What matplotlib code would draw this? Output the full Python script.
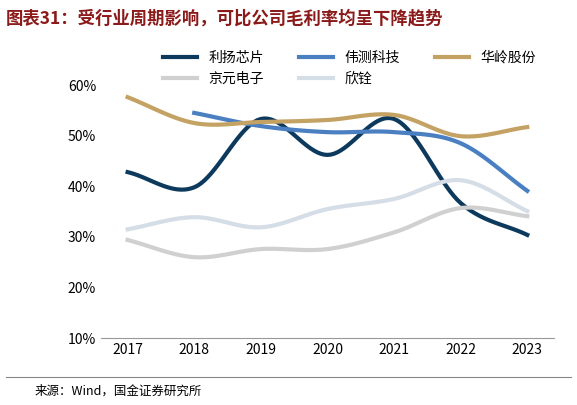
import numpy as np
import matplotlib.pyplot as plt
from matplotlib.lines import Line2D

plt.rcParams['font.family'] = ['Noto Sans CJK SC', 'DejaVu Sans']

years = [2017, 2018, 2019, 2020, 2021, 2022, 2023]
liyang = [42.8, 39.8, 53.3, 46.2, 53.3, 36.7, 30.4]
weice = [None, 54.5, 51.9, 50.7, 50.7, 48.5, 39.1]
hualing = [57.6, 52.5, 52.7, 53.1, 54.1, 49.9, 51.7]
jingyuan = [29.4, 26.0, 27.6, 27.6, 30.9, 35.7, 34.1]
xinquan = [31.5, 33.9, 31.9, 35.5, 37.5, 41.2, 35.1]

series = [("利扬芯片", liyang, "#0d3a5c"),
          ("伟测科技", weice, "#4a7fc1"),
          ("华岭股份", hualing, "#c4a264"),
          ("京元电子", jingyuan, "#d0d0d0"),
          ("欣铨", xinquan, "#d5dde6")]


def smooth(x, y, n=20):
    # Catmull-Rom curve through the points, only for drawing
    x = np.asarray(x, float); y = np.asarray(y, float)
    px = np.concatenate([[2*x[0]-x[1]], x, [2*x[-1]-x[-2]]])
    py = np.concatenate([[2*y[0]-y[1]], y, [2*y[-1]-y[-2]]])
    xs, ys = [], []
    for i in range(1, len(px)-2):
        t = np.linspace(0, 1, n, endpoint=False)
        for p, out in ((px, xs), (py, ys)):
            p0, p1, p2, p3 = p[i-1], p[i], p[i+1], p[i+2]
            out.extend(0.5*((2*p1) + (-p0+p2)*t + (2*p0-5*p1+4*p2-p3)*t**2
                            + (-p0+3*p1-3*p2+p3)*t**3))
    xs.append(x[-1]); ys.append(y[-1])
    return xs, ys


fig = plt.figure(figsize=(5.77, 4.05), dpi=100)
ax = fig.add_axes([0.175, 0.165, 0.785, 0.625])

handles = []
for name, vals, c in series:
    xx = [yr for yr, v in zip(years, vals) if v is not None]
    vv = [v for v in vals if v is not None]
    sx, sy = smooth(xx, vv)
    ax.plot(sx, sy, color=c, lw=3)
    handles.append(Line2D([], [], color=c, lw=3, label=name))

ax.set_ylim(10, 60)
ax.set_xlim(2016.6, 2023.4)
ax.set_yticks(range(10, 61, 10))
ax.set_yticklabels([f"{v}%" for v in range(10, 61, 10)])
ax.set_xticks(years)
ax.tick_params(length=0, labelsize=10)
for s in ['top', 'right', 'left']:
    ax.spines[s].set_visible(False)
ax.spines['bottom'].set_color('#999999')

# legend fills column-first; reorder so rows read as in the reference
order = [0, 3, 1, 4, 2]
fig.legend(handles=[handles[i] for i in order], ncol=3, loc='upper left',
           bbox_to_anchor=(0.26, 0.905), frameon=False, fontsize=10,
           handlelength=2.5, columnspacing=2.5)

fig.text(0.01, 0.955, "图表31：受行业周期影响，可比公司毛利率均呈下降趋势",
         fontsize=12.5, fontweight='bold', style='italic', color='#8b1a1a', va='center')
fig.add_artist(Line2D([0.01, 0.99], [0.07, 0.07], color='#888888', lw=0.8))
fig.text(0.06, 0.035, "来源：Wind，国金证券研究所", fontsize=9, va='center')

fig.savefig("out.png", dpi=100)
